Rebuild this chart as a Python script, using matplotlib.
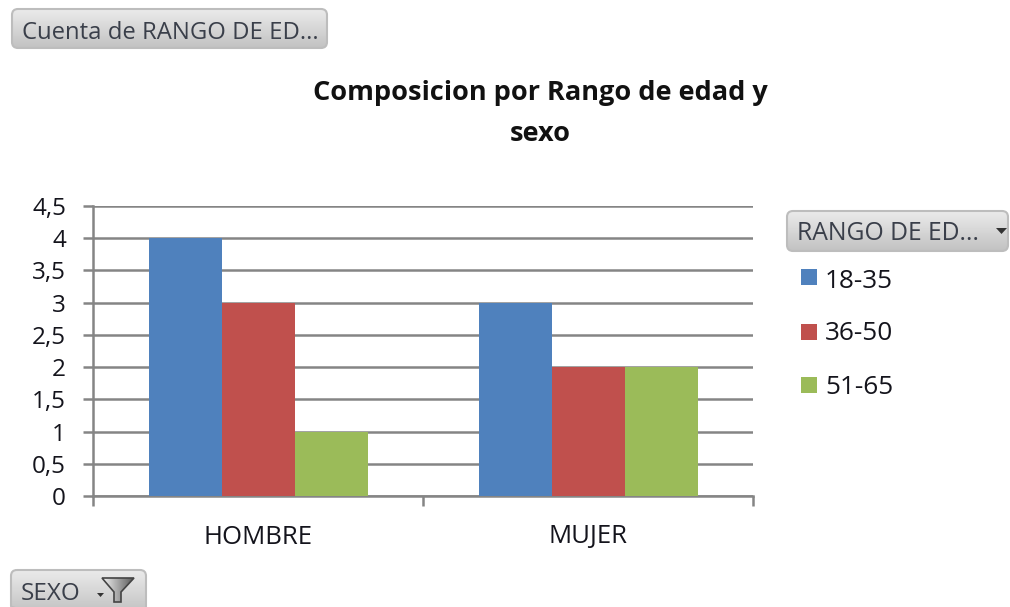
# coding: utf-8
import matplotlib
matplotlib.use('Agg')
import matplotlib.pyplot as plt
from matplotlib.patches import FancyBboxPatch, Polygon, Rectangle
import numpy as np

categories = ['HOMBRE', 'MUJER']
series_names = ['18-35', '36-50', '51-65']
v_18_35 = [4, 3]
v_36_50 = [3, 2]
v_51_65 = [1, 2]
tick_labels = ['0', '0,5', '1', '1,5', '2', '2,5', '3', '3,5', '4', '4,5']
colors = ['#4f81bd', '#c0504d', '#9bbb59']

W, H = 1010, 607
plt.rcParams['font.family'] = ['Open Sans', 'DejaVu Sans']

fig = plt.figure(figsize=(W / 100, H / 100), dpi=100, facecolor='white')

# area del grafico en pixeles
ax = fig.add_axes([93 / W, 1 - 496 / H, (753 - 93) / W, (496 - 206) / H])
ax.set_xlim(0, 2)
ax.set_ylim(0, 4.5)

bar_w = 73 / 330
x = np.arange(2) + 0.5
for i, vals in enumerate([v_18_35, v_36_50, v_51_65]):
    ax.bar(x + (i - 1) * bar_w, vals, bar_w, color=colors[i], zorder=3)

ax.set_yticks(np.arange(0, 4.6, 0.5))
ax.set_yticklabels(tick_labels, fontsize=17.5, color='#14141c')
ax.set_xticks([0, 1, 2])
ax.set_xticklabels([])
ax.tick_params(axis='y', length=7.5, width=1.8, color='#858585', pad=12)
ax.tick_params(axis='x', length=7.5, width=1.8, color='#858585', direction='out')
ax.grid(axis='y', color='#858585', lw=1.8, zorder=1)
for s in ['top', 'right']:
    ax.spines[s].set_visible(False)
for s in ['left', 'bottom']:
    ax.spines[s].set_color('#858585')
    ax.spines[s].set_linewidth(1.8)

for xc, c in zip(x, categories):
    ax.annotate(c, (xc, 0), xytext=(0, -38), textcoords='offset pixels', ha='center',
                va='center_baseline', fontsize=18.5, color='#14141c')

# superposicion en pixeles
ov = fig.add_axes([0, 0, 1, 1], facecolor='none')
ov.set_xlim(0, W)
ov.set_ylim(H, 0)
ov.axis('off')

ov.text(540, 93, 'Composicion por Rango de edad y', ha='center', va='center',
        fontsize=19.5, fontweight='bold', color='#111111')
ov.text(540, 134, 'sexo', ha='center', va='center', fontsize=19.5, fontweight='bold', color='#111111')


def button(x0, y0, w, h, label, size, ty):
    box = FancyBboxPatch((x0 + 6, y0 + 6), w - 12, h - 12, boxstyle='round,pad=6',
                         fc='none', ec='#bdbdbd', lw=1.5, zorder=2)
    ov.add_patch(box)
    grad = np.linspace(0.92, 0.76, 64).reshape(-1, 1)
    im = ov.imshow(grad, extent=[x0, x0 + w, y0 + h, y0], cmap='gray', vmin=0, vmax=1,
                   aspect='auto', zorder=1)
    im.set_clip_path(box)
    ov.text(x0 + 10, ty, label, ha='left', va='center_baseline', fontsize=size,
            color='#3a3f4a', zorder=3)


button(12, 9, 315, 39, 'Cuenta de RANGO DE ED...', 17.2, 30)
button(787, 211, 221, 40, 'RANGO DE ED...', 17.8, 231)
ov.add_patch(Polygon([[996, 228], [1007, 228], [1001.5, 234]], fc='#333333', ec='none', zorder=3))
button(11, 570, 135, 42, 'SEXO', 17.5, 591)
ov.add_patch(Polygon([[97, 593], [104, 593], [100.5, 597]], fc='#333333', ec='none', zorder=3))

# embudo del filtro
funnel = Polygon([[102, 578], [134, 578], [121, 592], [121, 602], [114, 602], [114, 592]],
                 fc='none', ec='#444444', lw=1.2, zorder=4)
ov.add_patch(funnel)
fgrad = np.linspace(0.95, 0.35, 64).reshape(1, -1)
fim = ov.imshow(fgrad, extent=[102, 134, 602, 578], cmap='gray', vmin=0, vmax=1,
                aspect='auto', zorder=3)
fim.set_clip_path(funnel)
ov.set_xlim(0, W)
ov.set_ylim(H, 0)

for color, ly in zip(colors, [277, 332, 385]):
    ov.add_patch(Rectangle((801, ly - 8), 16, 16, fc=color, ec='none'))
for name, ly in zip(series_names, [278, 331, 385]):
    ov.text(825, ly, name, ha='left', va='center_baseline', fontsize=18.8, color='#14141c')

fig.savefig('out.png', dpi=100)
